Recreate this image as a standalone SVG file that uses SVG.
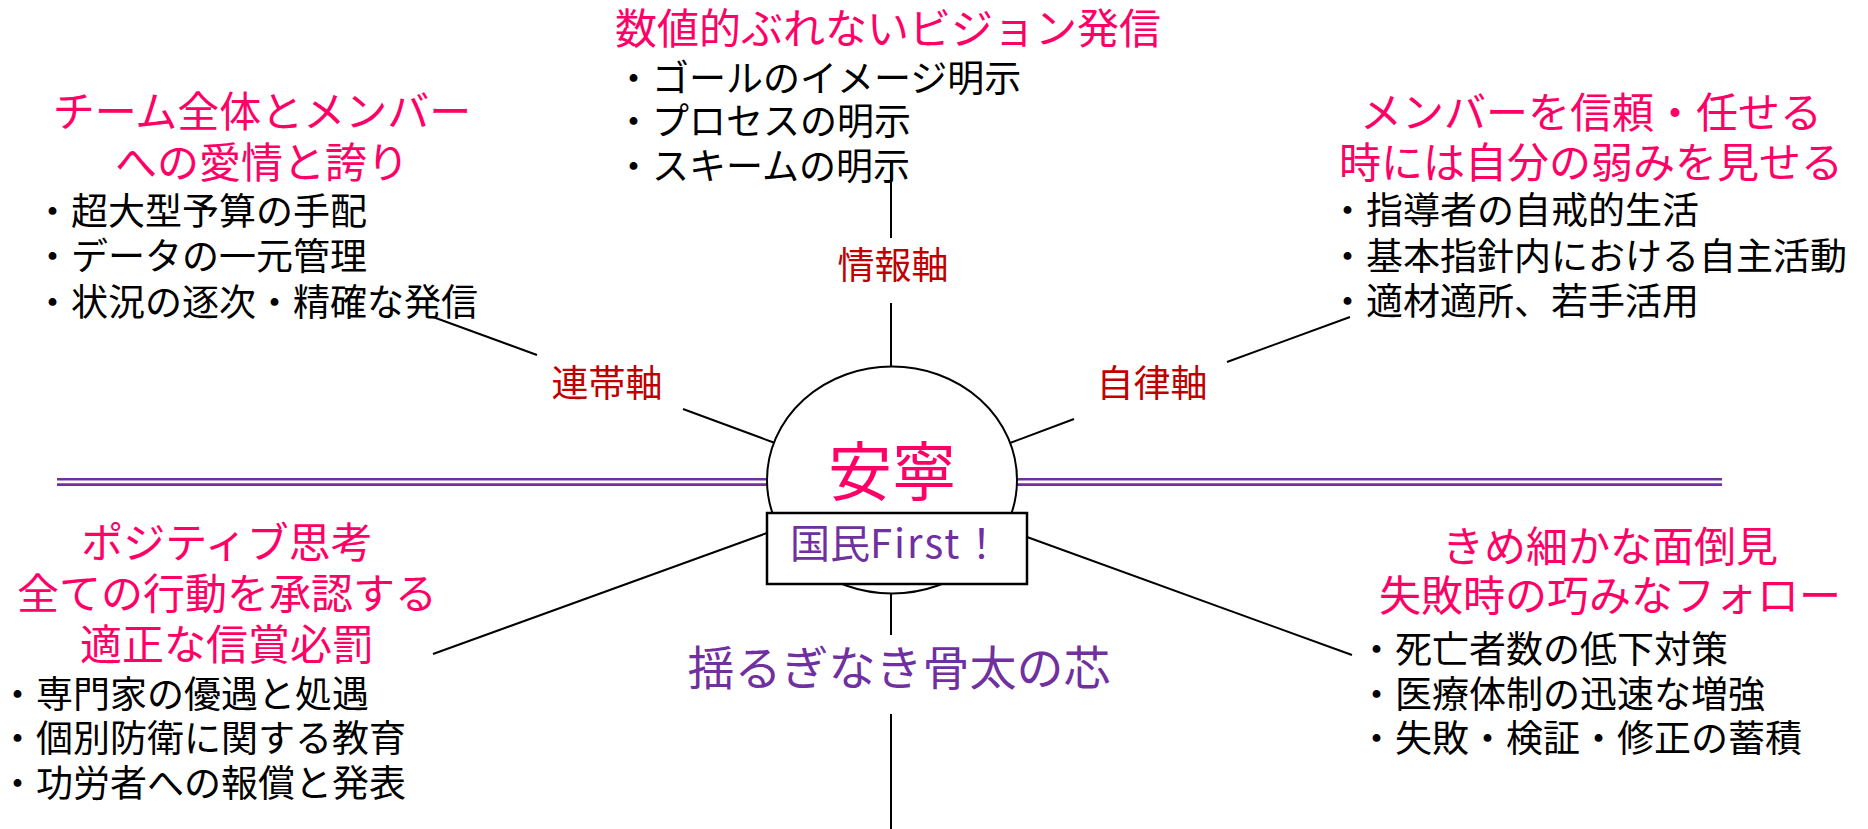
<svg xmlns="http://www.w3.org/2000/svg" width="1868" height="829" viewBox="0 0 1868 829">
<style>
text { font-family: "Noto Sans CJK JP", "Noto Sans", sans-serif; }
.ttl { font-size: 42px; fill: #FF0066; }
.bul { font-size: 37px; fill: #000000; }
.axis { font-size: 37px; fill: #C00000; text-anchor: middle; }
.ln { stroke: #000000; stroke-width: 2; fill: none; }
.pl { stroke: #7030A0; stroke-width: 2.6; fill: none; }
.mid { text-anchor: middle; }
</style>
<rect x="0" y="0" width="1868" height="829" fill="#ffffff"/>
<g id="divider">
<line class="pl" x1="57" y1="479.3" x2="1722" y2="479.3"/>
<line class="pl" x1="57" y1="484.6" x2="1722" y2="484.6"/>
</g>
<g id="connectors">
<line class="ln" x1="891" y1="160" x2="891" y2="238"/>
<line class="ln" x1="891" y1="303" x2="891" y2="370"/>
<line class="ln" x1="433" y1="317" x2="537" y2="355"/>
<line class="ln" x1="683" y1="409" x2="775" y2="443"/>
<line class="ln" x1="1350" y1="317" x2="1227" y2="362"/>
<line class="ln" x1="1074" y1="419" x2="1010" y2="443"/>
<line class="ln" x1="433" y1="654" x2="767" y2="533"/>
<line class="ln" x1="1027" y1="537" x2="1352" y2="655"/>
<line class="ln" x1="891" y1="590" x2="891" y2="635"/>
<line class="ln" x1="891" y1="714" x2="891" y2="829"/>
</g>
<g id="axis-labels">
<text class="axis" x="893" y="279">情報軸</text>
<text class="axis" x="607" y="397">連帯軸</text>
<text class="axis" x="1152" y="397">自律軸</text>
</g>
<g id="core">
<ellipse cx="892" cy="480" rx="125" ry="113.5" fill="#ffffff" stroke="#000000" stroke-width="2"/>
<text class="mid" x="892" y="495" font-size="64" fill="#FF0066">安寧</text>
</g>
<g id="kokumin">
<rect x="767" y="513" width="260" height="71" fill="#ffffff" stroke="#000000" stroke-width="2.5"/>
<text x="790" y="558" font-size="40" fill="#7030A0">国民<tspan letter-spacing="2">First</tspan>！</text>
</g>
<g id="backbone">
<text class="mid" x="899" y="685" font-size="47" fill="#7030A0">揺るぎなき骨太の芯</text>
</g>
<g id="node-top">
<text class="ttl" x="615" y="44">数値的ぶれないビジョン発信</text>
<text class="bul" x="615" y="92">・ゴールのイメージ明示</text>
<text class="bul" x="615" y="135">・プロセスの明示</text>
<text class="bul" x="615" y="180">・スキームの明示</text>
</g>
<g id="node-upper-left">
<text class="ttl mid" x="262" y="127">チーム全体とメンバー</text>
<text class="ttl mid" x="262" y="178">への愛情と誇り</text>
<text class="bul" x="34" y="225">・超大型予算の手配</text>
<text class="bul" x="34" y="270">・データの一元管理</text>
<text class="bul" x="34" y="316">・状況の逐次・精確な発信</text>
</g>
<g id="node-upper-right">
<text class="ttl mid" x="1591" y="128">メンバーを信頼・任せる</text>
<text class="ttl mid" x="1591" y="178">時には自分の弱みを見せる</text>
<text class="bul" x="1329" y="224">・指導者の自戒的生活</text>
<text class="bul" x="1329" y="270">・基本指針内における自主活動</text>
<text class="bul" x="1329" y="315">・適材適所、若手活用</text>
</g>
<g id="node-lower-left">
<text class="ttl mid" x="227" y="558">ポジティブ思考</text>
<text class="ttl mid" x="227" y="609">全ての行動を承認する</text>
<text class="ttl mid" x="227" y="660">適正な信賞必罰</text>
<text class="bul" x="-1" y="708">・専門家の優遇と処遇</text>
<text class="bul" x="-1" y="752">・個別防衛に関する教育</text>
<text class="bul" x="-1" y="797">・功労者への報償と発表</text>
</g>
<g id="node-lower-right">
<text class="ttl mid" x="1610" y="562">きめ細かな面倒見</text>
<text class="ttl mid" x="1610" y="611">失敗時の巧みなフォロー</text>
<text class="bul" x="1358" y="663">・死亡者数の低下対策</text>
<text class="bul" x="1358" y="708">・医療体制の迅速な増強</text>
<text class="bul" x="1358" y="752">・失敗・検証・修正の蓄積</text>
</g>
</svg>
